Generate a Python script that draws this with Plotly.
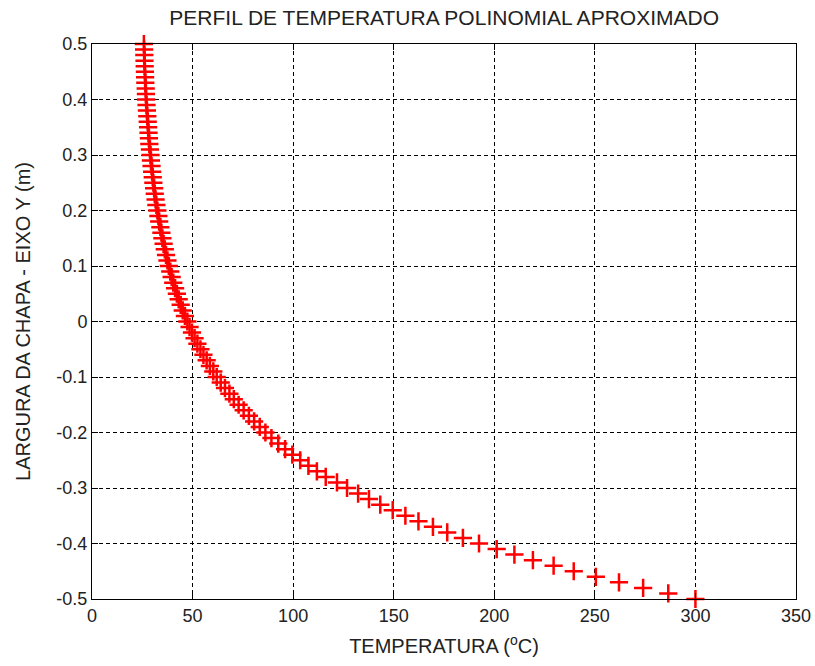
import plotly.graph_objects as go

# Y positions (m) from -0.5 to 0.5 in steps of 0.01
largura = [round(-0.5 + 0.01 * i, 2) for i in range(101)]

# Temperature values (deg C), bottom (y=-0.5) to top (y=0.5)
temperatura = [
    300.0, 286.5, 274.0, 262.0, 250.5, 239.5, 229.5, 219.2, 210.0, 201.2,
    192.4, 184.4, 176.6, 169.5, 162.3, 155.8, 149.5, 143.3, 137.7, 132.3,
    126.8, 121.8, 116.2, 111.8, 107.6, 103.5, 99.6, 96.0, 92.6, 89.2,
    86.2, 83.4, 80.6, 78.0, 75.4, 72.9, 70.5, 68.3, 66.1, 64.0,
    62.0, 60.3, 58.6, 57.0, 55.4, 53.9, 52.4, 51.0, 49.7, 48.5,
    47.4, 46.2, 45.1, 44.1, 43.1, 42.2, 41.3, 40.4, 39.6, 38.9,
    38.2, 37.5, 36.8, 36.2, 35.6, 35.0, 34.5, 34.0, 33.4, 33.0,
    32.5, 32.0, 31.6, 31.2, 30.9, 30.5, 30.2, 29.9, 29.6, 29.3,
    29.1, 28.8, 28.5, 28.3, 28.1, 27.9, 27.7, 27.5, 27.3, 27.1,
    26.9, 26.8, 26.7, 26.5, 26.4, 26.3, 26.2, 26.1, 26.0, 25.9,
    25.8,
]

x_ticks = [0, 50, 100, 150, 200, 250, 300, 350]
x_labels = ["0", "50", "100", "150", "200", "250", "300", "350"]
y_ticks = [-0.5, -0.4, -0.3, -0.2, -0.1, 0, 0.1, 0.2, 0.3, 0.4, 0.5]
y_labels = ["-0.5", "-0.4", "-0.3", "-0.2", "-0.1", "0", "0.1", "0.2", "0.3", "0.4", "0.5"]

font_family = "Liberation Sans, Arial, sans-serif"
text_color = "#222222"

fig = go.Figure()
fig.add_trace(go.Scatter(
    x=temperatura,
    y=largura,
    mode="markers",
    marker=dict(symbol="cross-thin", size=13, color="red",
                line=dict(color="red", width=2.5)),
    cliponaxis=False,
    showlegend=False,
))

axis_common = dict(
    showline=True, linecolor="black", linewidth=1, mirror="ticks",
    ticks="inside", ticklen=6, tickcolor="black", tickwidth=1,
    showgrid=True, gridcolor="black", gridwidth=1, griddash="4px,3px",
    zeroline=False, automargin=False, ticklabeloverflow="allow",
    tickfont=dict(family=font_family, size=18, color=text_color),
)

fig.update_layout(
    width=815, height=666,
    margin=dict(l=92, r=19, t=44, b=67),
    paper_bgcolor="white", plot_bgcolor="white",
    title=dict(text="PERFIL DE TEMPERATURA POLINOMIAL APROXIMADO",
               x=0.545, xanchor="center", y=0.973, yanchor="middle",
               font=dict(family=font_family, size=21, color=text_color)),
    xaxis=dict(range=[0, 350], tickvals=x_ticks, ticktext=x_labels,
               title=dict(text="TEMPERATURA (<sup>o</sup>C)", standoff=14,
                          font=dict(family=font_family, size=20, color=text_color)),
               **axis_common),
    yaxis=dict(range=[-0.5, 0.5], tickvals=y_ticks, ticktext=y_labels,
               title=dict(text="LARGURA DA CHAPA - EIXO Y (m)", standoff=20,
                          font=dict(family=font_family, size=20, color=text_color)),
               **axis_common),
)

fig.write_html("out.html")
